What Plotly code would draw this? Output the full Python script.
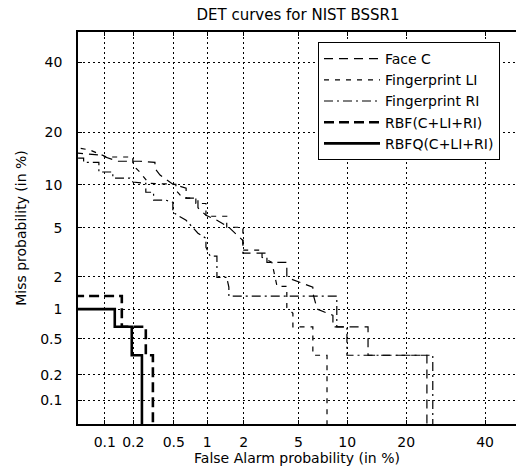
import numpy as np
import plotly.graph_objects as go

# ---------------- data (percent) ----------------
tick_pct = [0.1, 0.2, 0.5, 1, 2, 5, 10, 20, 40]
tick_text = ["0.1", "0.2", "0.5", "1", "2", "5", "10", "20", "40"]

face_fa = [0.03, 0.086, 0.138, 0.233, 0.33, 0.33, 0.37, 0.49, 0.65, 0.65, 0.83, 0.83, 0.975, 1.21, 1.52,
           1.97, 1.97, 3.0, 3.0, 4.16, 4.16, 6.2, 6.2, 6.6, 8.25, 8.25, 13.0, 13.0, 24.6, 24.6]
face_miss = [15.8, 15.1, 13.9, 13.9, 13.7, 12.6, 11.5, 10.06, 9.5, 8.15, 8.15, 7.0, 6.2, 5.7, 5.06,
             4.0, 3.17, 3.17, 2.66, 2.66, 1.97, 1.61, 1.42, 1.0, 0.87, 0.667, 0.667, 0.333, 0.333, 0.03]

li_fa = [0.03, 0.068, 0.105, 0.198, 0.198, 0.233, 0.287, 0.523, 0.523, 0.607, 0.795, 0.795, 0.975, 0.975,
         1.46, 1.46, 1.97, 1.97, 2.76, 2.76, 3.26, 3.55, 4.16, 4.16, 4.58, 4.58, 6.2, 6.2, 7.6, 7.6]
li_miss = [17.3, 16.1, 14.7, 14.7, 13.2, 12.0, 10.2, 10.06, 9.2, 8.15, 8.15, 7.5, 7.5, 6.1,
           6.1, 5.06, 5.06, 3.35, 3.35, 2.93, 2.66, 1.64, 1.64, 1.04, 0.91, 0.667, 0.667, 0.333, 0.333, 0.03]

ri_fa = [0.03, 0.058, 0.058, 0.086, 0.086, 0.122, 0.122, 0.185, 0.198, 0.268, 0.268, 0.32, 0.32, 0.42,
         0.49, 0.49, 0.65, 0.75, 0.83, 0.975, 0.975, 1.06, 1.21, 1.21, 1.46, 1.52, 1.52, 8.7, 8.7,
         9.96, 9.96, 26.0, 26.0]
ri_miss = [14.5, 14.5, 13.7, 13.7, 12.0, 12.0, 11.0, 11.0, 10.4, 10.2, 8.93, 8.93, 7.9, 7.9,
           7.65, 6.5, 5.7, 5.06, 4.56, 4.17, 3.54, 3.0, 3.0, 1.97, 1.97, 1.61, 1.333, 1.333, 0.667,
           0.667, 0.333, 0.333, 0.03]

rbf_fa = [0.03, 0.152, 0.152, 0.268, 0.268, 0.315, 0.315]
rbf_miss = [1.333, 1.333, 0.667, 0.667, 0.333, 0.333, 0.03]

rbfq_fa = [0.03, 0.128, 0.128, 0.193, 0.193, 0.245, 0.245]
rbfq_miss = [1.0, 1.0, 0.667, 0.667, 0.333, 0.333, 0.03]


# ---------------- normal-deviate (probit) scale ----------------
def probit(p):
    p = np.asarray(p, dtype=float)
    a = [-3.969683028665376e+01, 2.209460984245205e+02, -2.759285104469687e+02,
         1.383577518672690e+02, -3.066479806614716e+01, 2.506628277459239e+00]
    b = [-5.447609879822406e+01, 1.615858368580409e+02, -1.556989798598866e+02,
         6.680131188771972e+01, -1.328068155288572e+01]
    c = [-7.784894002430293e-03, -3.223964580411365e-01, -2.400758277161838e+00,
         -2.549671669506445e+00, 4.374664141464968e+00, 2.938163982698783e+00]
    d = [7.784695709041462e-03, 3.224671290700398e-01, 2.445134137641598e+00,
         3.754408661907416e+00]
    plow = 0.02425
    out = np.zeros_like(p)
    lo = p < plow
    hi = p > 1 - plow
    mid = ~(lo | hi)
    q = np.sqrt(-2 * np.log(p[lo]))
    out[lo] = (((((c[0]*q+c[1])*q+c[2])*q+c[3])*q+c[4])*q+c[5]) / ((((d[0]*q+d[1])*q+d[2])*q+d[3])*q+1)
    q = p[mid] - 0.5
    r = q*q
    out[mid] = (((((a[0]*r+a[1])*r+a[2])*r+a[3])*r+a[4])*r+a[5])*q / \
               (((((b[0]*r+b[1])*r+b[2])*r+b[3])*r+b[4])*r+1)
    q = np.sqrt(-2 * np.log(1 - p[hi]))
    out[hi] = -(((((c[0]*q+c[1])*q+c[2])*q+c[3])*q+c[4])*q+c[5]) / ((((d[0]*q+d[1])*q+d[2])*q+d[3])*q+1)
    return out


def pz(v):
    return probit(np.asarray(v, dtype=float) / 100.0)


FONT = "DejaVu Sans"

fig = go.Figure()
series = [
    ("Face C", face_fa, face_miss, dict(color="black", width=1.2, dash="9px,6px")),
    ("Fingerprint LI", li_fa, li_miss, dict(color="black", width=1.2, dash="5px,6px")),
    ("Fingerprint RI", ri_fa, ri_miss, dict(color="black", width=1.2, dash="9px,4px,2px,4px")),
    ("RBF(C+LI+RI)", rbf_fa, rbf_miss, dict(color="black", width=2.6, dash="10px,5px")),
    ("RBFQ(C+LI+RI)", rbfq_fa, rbfq_miss, dict(color="black", width=2.6)),
]
for name, fa, miss, line in series:
    fig.add_trace(go.Scatter(x=pz(fa), y=pz(miss), mode="lines", name=name, line=line))

lo = float(pz([0.05])[0])
x_hi = lo + (0 - lo) * 438.0 / 441.0

axis_common = dict(
    tickvals=pz(tick_pct), ticktext=tick_text,
    showgrid=True, gridcolor="black", gridwidth=1, griddash="2px,3px",
    zeroline=False, showline=True, linecolor="black", linewidth=1.5,
    ticks="inside", ticklen=4, tickcolor="black",
    tickfont=dict(family=FONT, size=14, color="black"),
)
fig.update_xaxes(range=[lo, x_hi], mirror="ticks", ticklabelstandoff=4,
                 title=dict(text="False Alarm probability (in %)",
                            font=dict(family=FONT, size=14, color="black"), standoff=5),
                 **axis_common)
fig.update_yaxes(range=[lo, 0], mirror=False, ticklabelstandoff=11,
                 title=dict(text="Miss probability (in %)",
                            font=dict(family=FONT, size=14, color="black"), standoff=10),
                 **axis_common)

fig.update_layout(
    width=516, height=468, autosize=False,
    margin=dict(l=78, r=0, t=32, b=44),
    paper_bgcolor="white", plot_bgcolor="white",
    title=dict(text="DET curves for NIST BSSR1", x=298/516, xanchor="center",
               y=1 - 15/468, yanchor="middle", font=dict(family=FONT, size=15, color="black")),
    legend=dict(x=(318-78)/438, y=(424-42)/392, xanchor="left", yanchor="top",
                bgcolor="white", bordercolor="black", borderwidth=1,
                font=dict(family=FONT, size=14, color="black"),
                itemwidth=56, tracegroupgap=0),
    showlegend=True,
)

fig.write_html("out.html", config={"displayModeBar": False},
               post_script="document.body.style.margin='0px';")
